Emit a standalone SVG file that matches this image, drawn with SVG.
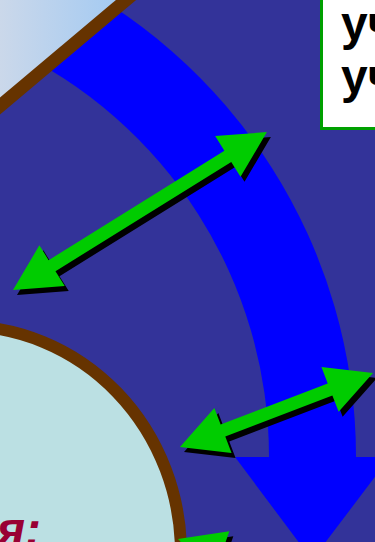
<svg xmlns="http://www.w3.org/2000/svg" xmlns:xlink="http://www.w3.org/1999/xlink" width="375" height="542" viewBox="0 0 375 542">
<style>
.bg{fill:#333399}
.band{fill:#0000ff}
.brown{stroke:#663300;fill:none}
.green{fill:#00cc00}
.shadow{fill:#000000}
.boxtxt{font-family:"Liberation Sans",Arial,sans-serif;font-weight:bold;font-size:48px;fill:#000000}
.redtxt{font-family:"Liberation Sans",Arial,sans-serif;font-weight:bold;font-style:italic;font-size:48px;fill:#990033}
</style>
<defs>
<linearGradient id="lg" gradientUnits="userSpaceOnUse" x1="0" y1="0" x2="130" y2="0">
<stop offset="0" stop-color="#cbd8ea"/>
<stop offset="1" stop-color="#a0c9f3"/>
</linearGradient>
<path id="a1" d="M0,0 L46,-24 L46,-6.5 L253,-6.5 L253,-24 L299,0 L253,24 L253,6.5 L46,6.5 L46,24 Z"/>
<path id="a2" d="M0,0 L46,-24 L46,-6.5 L160.7,-6.5 L160.7,-24 L206.7,0 L160.7,24 L160.7,6.5 L46,6.5 L46,24 Z"/>
<path id="a3" d="M0,0 L46,-24 L46,-6.5 L204,-6.5 L204,-24 L250,0 L204,24 L204,6.5 L46,6.5 L46,24 Z"/>
</defs>
<rect class="bg" x="0" y="0" width="375" height="542"/>
<g id="flow">
<path class="band" d="M44.8,-31.5 A539,539 0 0 1 356,457 L390,457 L312,560 L235,457 L269,457 A452,452 0 0 0 8,47.4 Z"/>
</g>
<g id="topleft">
<polygon points="-10,-10 137.9,-10 -10,114.4" fill="url(#lg)"/>
<line class="brown" x1="-10" y1="114.4" x2="137.9" y2="-10" stroke-width="13"/>
</g>
<g id="ellipse">
<ellipse cx="-37" cy="553" rx="218" ry="227" fill="#bbe0e3" stroke="#663300" stroke-width="12"/>
<text class="redtxt" x="41" y="546" text-anchor="end">я:</text>
</g>
<g id="box">
<rect x="321.5" y="-10" width="70" height="138.5" fill="#ffffff" stroke="#00a000" stroke-width="3"/>
<text class="boxtxt" x="341" y="40">уч</text>
<text class="boxtxt" x="341" y="93">уч</text>
</g>
<g id="connectors">
<g transform="translate(4,5)" class="shadow">
<use xlink:href="#a1" transform="translate(13,290) rotate(-31.88)"/>
<use xlink:href="#a2" transform="translate(180,447) rotate(-20.98)"/>
<use xlink:href="#a3" transform="translate(178,539) rotate(19)"/>
</g>
<g class="green">
<use xlink:href="#a1" transform="translate(13,290) rotate(-31.88)"/>
<use xlink:href="#a2" transform="translate(180,447) rotate(-20.98)"/>
<use xlink:href="#a3" transform="translate(178,539) rotate(19)"/>
</g>
</g>
</svg>
